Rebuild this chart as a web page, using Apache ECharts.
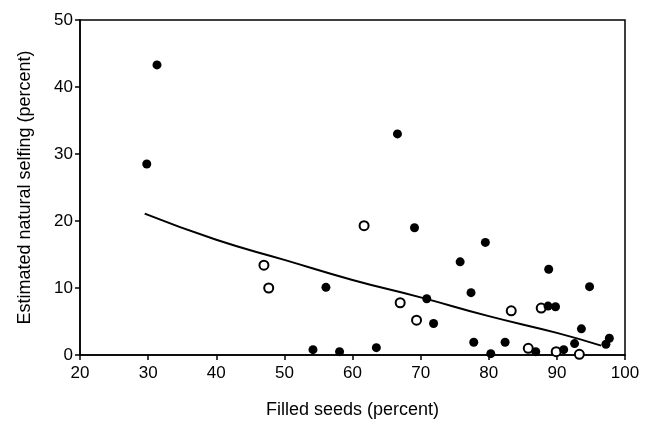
<!DOCTYPE html>
<html>
<head>
<meta charset="utf-8">
<script src="https://cdn.jsdelivr.net/npm/echarts@6/dist/echarts.min.js"></script>
<style>html,body{margin:0;padding:0;background:#fff}#c{width:647px;height:431px}</style>
</head>
<body>
<div id="c"></div>
<script>
// Filled circles: [filled seeds %, selfing %]
const filledPoints = [
  [29.8, 28.5], [31.3, 43.3], [66.6, 33.0], [56.1, 10.1], [54.2, 0.8], [58.1, 0.5],
  [63.5, 1.1], [69.1, 19.0], [79.5, 16.8], [75.8, 13.9], [88.8, 12.8], [94.8, 10.2],
  [77.4, 9.3], [70.9, 8.4], [88.7, 7.3], [89.8, 7.2], [71.9, 4.7], [93.6, 3.9],
  [77.8, 1.9], [82.4, 1.9], [97.7, 2.5], [97.2, 1.6], [92.6, 1.7], [86.9, 0.5],
  [80.3, 0.2], [91.0, 0.8]
];
// Open circles
const openPoints = [
  [47.0, 13.4], [47.7, 10.0], [61.7, 19.3], [67.0, 7.8], [69.4, 5.2], [83.3, 6.6],
  [87.7, 7.0], [85.8, 1.0], [89.9, 0.5], [93.3, 0.1]
];
// Fitted curve
const fitLine = [
  [29.5, 21.1], [40, 17.2], [50, 14.2], [60, 11.2], [70, 8.6], [80, 5.8], [90, 3.3], [96.5, 1.4]
];
const xTitle = 'Filled seeds (percent)';
const yTitle = 'Estimated natural selfing (percent)';

const font = 'Liberation Sans, Arial, Helvetica, sans-serif';
const chart = echarts.init(document.getElementById('c'));
chart.setOption({
  animation: false,
  backgroundColor: '#fff',
  grid: { left: 80, right: 22, top: 20, bottom: 76, show: true, borderColor: '#000', borderWidth: 1.5, backgroundColor: 'transparent' },
  xAxis: {
    type: 'value', min: 20, max: 100, interval: 10,
    name: xTitle, nameLocation: 'middle', nameGap: 46,
    nameTextStyle: { fontFamily: font, fontSize: 18, color: '#000' },
    axisLine: { show: true, lineStyle: { color: '#000', width: 1.5 } },
    axisTick: { show: true, length: 5, lineStyle: { color: '#000', width: 1.5 } },
    axisLabel: { fontFamily: font, fontSize: 17, color: '#000', margin: 10 },
    splitLine: { show: false }
  },
  yAxis: {
    type: 'value', min: 0, max: 50, interval: 10,
    name: yTitle, nameLocation: 'middle', nameGap: 46,
    nameTextStyle: { fontFamily: font, fontSize: 18, color: '#000' },
    axisLine: { show: true, lineStyle: { color: '#000', width: 1.5 } },
    axisTick: { show: true, length: 5, lineStyle: { color: '#000', width: 1.5 } },
    axisLabel: { fontFamily: font, fontSize: 17, color: '#000', margin: 7 },
    splitLine: { show: false }
  },
  series: [
    {
      type: 'line', data: fitLine, smooth: true, symbol: 'none',
      lineStyle: { color: '#000', width: 2 }, z: 2
    },
    {
      type: 'scatter', data: openPoints, symbol: 'circle', symbolSize: 9,
      itemStyle: { color: '#fff', borderColor: '#000', borderWidth: 2, opacity: 1 }, z: 3
    },
    {
      type: 'scatter', data: filledPoints, symbol: 'circle', symbolSize: 9,
      itemStyle: { color: '#000', opacity: 1 }, z: 4
    }
  ]
});
</script>
</body>
</html>
